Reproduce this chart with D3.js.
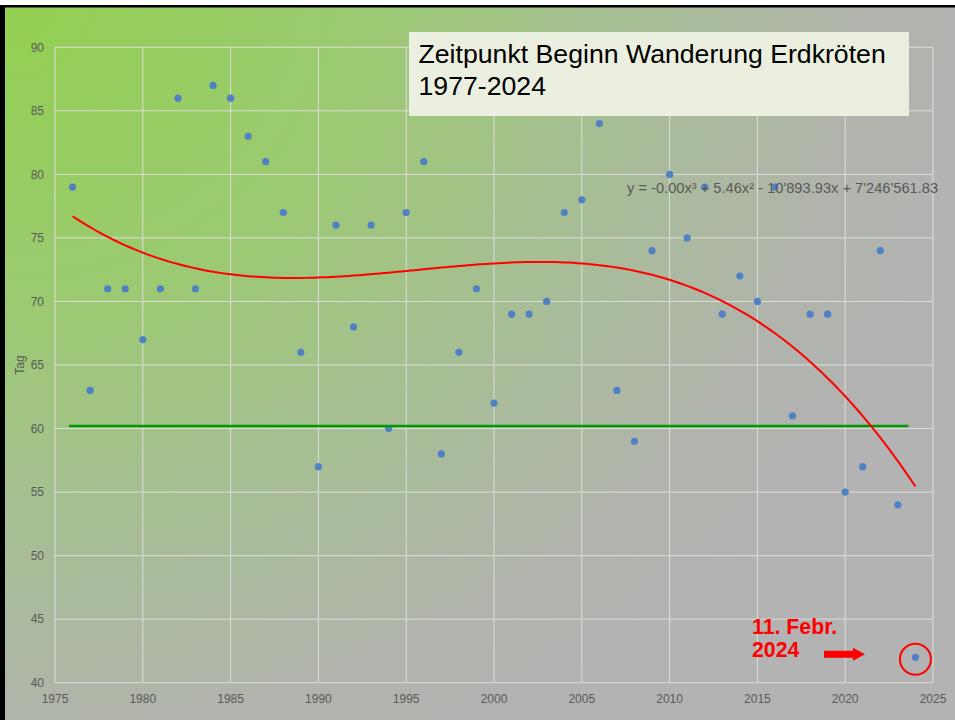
<!DOCTYPE html>
<html><head><meta charset="utf-8">
<script src="https://cdn.jsdelivr.net/npm/d3@7"></script>
<style>body{margin:0;background:#fff;} svg{display:block;font-family:"Liberation Sans",Arial,sans-serif;}</style>
</head><body><svg id="c" width="955" height="720"></svg>
<script>
// ---- data ----
const years = [1976,1977,1978,1979,1980,1981,1982,1983,1984,1985,1986,1987,1988,1989,1990,1991,1992,1993,1994,1995,1996,1997,1998,1999,2000,2001,2002,2003,2004,2005,2006,2007,2008,2009,2010,2011,2012,2013,2014,2015,2016,2017,2018,2019,2020,2021,2022,2023,2024];
const tage  = [79,63,71,71,67,71,86,71,87,86,83,81,77,66,57,76,68,76,60,77,81,58,66,71,62,69,69,70,77,78,84,63,59,74,80,75,79,69,72,70,79,61,69,69,55,57,74,54,42];
const refYears = [1975.8, 2023.6];
const refValues = [60.2, 60.2];
const xTicks = [1975,1980,1985,1990,1995,2000,2005,2010,2015,2020,2025];
const yTicks = [40,45,50,55,60,65,70,75,80,85,90];
const titleLines = ["Zeitpunkt Beginn Wanderung Erdkröten", "1977-2024"];
const yLabel = "Tag";
const equation = "y = -0.00x³ + 5.46x² - 10'893.93x + 7'246'561.83";
const noteLines = ["11. Febr.", "2024"];
const highlightYear = 2024, highlightValue = 42;

// ---- layout ----
const W = 955, H = 720;
const M = {left: 55, right: 933, top: 47.3, bottom: 682.7};
const svg = d3.select("#c");
const x = d3.scaleLinear().domain([1975, 2025]).range([M.left, M.right]);
const y = d3.scaleLinear().domain([40, 90]).range([M.bottom, M.top]);

// background
const defs = svg.append("defs");
const grad = defs.append("radialGradient").attr("id","bg")
  .attr("gradientUnits","userSpaceOnUse").attr("cx",0).attr("cy",0).attr("r",1000)
  .attr("gradientTransform","scale(1,0.85)");
[[0,"#92d050"],[0.35,"#9bca70"],[0.6,"#a6bf92"],[0.85,"#b0b4ab"],[1,"#b3b3b3"]].forEach(s=>
  grad.append("stop").attr("offset",s[0]).attr("stop-color",s[1]));
svg.append("rect").attr("x",0).attr("y",5).attr("width",W).attr("height",H-5).attr("fill","#000");
svg.append("rect").attr("x",5).attr("y",7.5).attr("width",W-5).attr("height",H-7.5).attr("fill","url(#bg)");

// grid
const g = svg.append("g");
g.selectAll(".hg").data(yTicks).join("line")
  .attr("x1",M.left).attr("x2",M.right).attr("y1",d=>y(d)).attr("y2",d=>y(d))
  .attr("stroke","#dcdeda").attr("stroke-width",1);
g.selectAll(".vg").data(xTicks).join("line")
  .attr("y1",M.top).attr("y2",M.bottom).attr("x1",d=>x(d)).attr("x2",d=>x(d))
  .attr("stroke","#dcdeda").attr("stroke-width",1);

// axes labels
g.selectAll(".yl").data(yTicks).join("text")
  .attr("x",M.left-11).attr("y",d=>y(d)+4.3).attr("text-anchor","end")
  .attr("font-size",12).attr("fill","#595959").text(d=>d);
g.selectAll(".xl").data(xTicks).join("text")
  .attr("x",d=>x(d)).attr("y",M.bottom+20).attr("text-anchor","middle")
  .attr("font-size",12).attr("fill","#595959").text(d=>d);
svg.append("text").attr("transform",`translate(24,${(M.top+M.bottom)/2}) rotate(-90)`)
  .attr("text-anchor","middle").attr("font-size",12).attr("fill","#595959").text(yLabel);

// points
svg.append("g").selectAll("circle").data(years.map((yr,i)=>({yr,v:tage[i]}))).join("circle")
  .attr("cx",d=>x(d.yr)).attr("cy",d=>y(d.v)).attr("r",3.6).attr("fill","#4f81c4");

// reference line
svg.append("path").datum(refYears.map((yr,i)=>[yr,refValues[i]]))
  .attr("d",d3.line().x(d=>x(d[0])).y(d=>y(d[1])))
  .attr("stroke","#009a00").attr("stroke-width",2.6).attr("fill","none");

// cubic trend (least squares)
function polyfit(xs, ys, deg){
  const n = deg+1;
  const A = Array.from({length:n},()=>Array(n+1).fill(0));
  xs.forEach((xv,k)=>{
    for(let i=0;i<n;i++){
      for(let j=0;j<n;j++) A[i][j]+=Math.pow(xv,i+j);
      A[i][n]+=ys[k]*Math.pow(xv,i);
    }
  });
  for(let c=0;c<n;c++){
    let p=c; for(let r=c+1;r<n;r++) if(Math.abs(A[r][c])>Math.abs(A[p][c])) p=r;
    [A[c],A[p]]=[A[p],A[c]];
    for(let r=0;r<n;r++) if(r!==c){ const f=A[r][c]/A[c][c]; for(let k=c;k<=n;k++) A[r][k]-=f*A[c][k]; }
  }
  return A.map((row,i)=>row[n]/row[i]);
}
const t0 = 2000;
const coef = polyfit(years.map(v=>v-t0), tage, 3);
const fx = yr => coef.reduce((s,c,i)=>s+c*Math.pow(yr-t0,i),0);
const trendYears = d3.range(years[0], years[years.length-1]+0.001, 0.25);
svg.append("path").datum(trendYears)
  .attr("d",d3.line().x(d=>x(d)).y(d=>y(fx(d))).curve(d3.curveLinear))
  .attr("stroke","#ff0000").attr("stroke-width",2).attr("fill","none");

// equation
svg.append("text").attr("x",627).attr("y",193).attr("font-size",14.67).attr("fill","#595959").text(equation);

// title box
svg.append("rect").attr("x",409).attr("y",32).attr("width",500).attr("height",84).attr("fill","#ebefdf");
svg.selectAll(".tt").data(titleLines).join("text")
  .attr("x",418.5).attr("y",(d,i)=>63+i*32).attr("font-size",26.67).attr("fill","#000").text(d=>d);

// annotation
svg.selectAll(".nt").data(noteLines).join("text")
  .attr("x",752).attr("y",(d,i)=>633.5+i*23.4).attr("font-size",21.3).attr("font-weight","bold")
  .attr("fill","#ff0000").text(d=>d);
const ay = y(highlightValue)-3;
svg.append("rect").attr("x",824).attr("y",ay-3.5).attr("width",30).attr("height",7).attr("fill","#ff0000");
svg.append("path").attr("d",`M853,${ay-6.5} L865,${ay} L853,${ay+6.5} Z`).attr("fill","#ff0000");
svg.append("circle").attr("cx",x(highlightYear)).attr("cy",y(highlightValue)+2).attr("r",15.5)
  .attr("fill","none").attr("stroke","#ff0000").attr("stroke-width",2);
</script></body></html>
